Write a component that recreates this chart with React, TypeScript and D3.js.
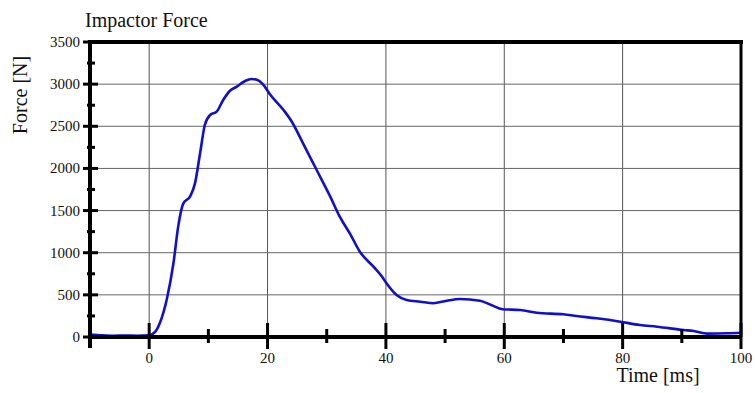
import React from "react";
import * as d3 from "d3";

const timeMs = [-10, -8, -6, -4, -2, 0, 1, 1.8, 2.95, 4.1, 4.9, 5.77, 6.9, 7.74, 8.6, 9.4, 10.3, 11.4, 12.5, 13.65, 14.8, 16.2, 17.3, 18.2, 19.2, 20.4, 22.7, 24.1, 26, 28.3, 30.6, 32.2, 33.9, 35.6, 37.9, 39.3, 40.1, 41.8, 43.5, 45.8, 48, 50.3, 52.5, 55.9, 57.8, 59.7, 62.7, 65.5, 70, 72.2, 75.6, 79.6, 82.9, 85.8, 90.3, 92, 94.3, 97.7, 100];
const forceN = [30, 20, 15, 18, 15, 20, 60, 166, 440, 875, 1310, 1586, 1665, 1823, 2180, 2515, 2634, 2673, 2812, 2922, 2970, 3037, 3061, 3052, 3000, 2880, 2693, 2554, 2298, 1981, 1665, 1427, 1230, 1012, 834, 720, 637, 498, 439, 419, 400, 431, 451, 431, 380, 330, 320, 288, 269, 249, 222, 182, 142, 122, 83, 71, 40, 44, 51];

const xTickValues = [0, 20, 40, 60, 80, 100];
const xMinorTicks = [10, 30, 50, 70, 90];
const yTickValues = [0, 500, 1000, 1500, 2000, 2500, 3000, 3500];
const yMinorTicks = [250, 750, 1250, 1750, 2250, 2750, 3250];

const title = "Impactor Force";
const xLabel = "Time [ms]";
const yLabel = "Force [N]";

export default function App() {
  const W = 755, H = 393;
  const L = 90, R = 741, T = 42, B = 337;
  const x = d3.scaleLinear().domain([-10, 100]).range([L, R]);
  const y = d3.scaleLinear().domain([0, 3500]).range([B, T]);
  const pts = timeMs.map((t, i) => [t, forceN[i]] as [number, number]);
  const line = d3.line<[number, number]>().x(d => x(d[0])).y(d => y(d[1])).curve(d3.curveMonotoneX);
  const font = "'Liberation Serif', 'Times New Roman', serif";
  return (
    <svg width={W} height={H} style={{ position: "absolute", left: 0, top: 0, background: "#fff" }} fontFamily={font}>
      {/* grid */}
      {xTickValues.filter(v => v > -10 && v < 100).map(v => (
        <line key={"gx" + v} x1={x(v)} x2={x(v)} y1={T} y2={B} stroke="#555" strokeWidth={1} />
      ))}
      {yTickValues.filter(v => v > 0 && v < 3500).map(v => (
        <line key={"gy" + v} x1={L} x2={R} y1={y(v)} y2={y(v)} stroke="#666" strokeWidth={1} />
      ))}
      {/* curve */}
      <path d={line(pts) || ""} fill="none" stroke="#1010cc" strokeWidth={2.6} strokeLinejoin="round" />
      {/* frame */}
      <line x1={L} x2={L} y1={T - 2} y2={B + 11} stroke="#000" strokeWidth={4} />
      <line x1={L - 2} x2={R + 2} y1={T} y2={T} stroke="#000" strokeWidth={4} />
      <line x1={R} x2={R} y1={T} y2={B} stroke="#000" strokeWidth={3} />
      <line x1={L} x2={R} y1={B} y2={B} stroke="#000" strokeWidth={4} />
      {/* x ticks */}
      {xTickValues.map(v => (
        <g key={"xt" + v}>
          <line x1={x(v)} x2={x(v)} y1={B - 14} y2={B + 12} stroke="#000" strokeWidth={3} />
          <text x={x(v)} y={B + 26} textAnchor="middle" fontSize={15} fill="#111">{v}</text>
        </g>
      ))}
      {xMinorTicks.map(v => (
        <line key={"xm" + v} x1={x(v)} x2={x(v)} y1={B - 8} y2={B + 6} stroke="#000" strokeWidth={3} />
      ))}
      {/* y ticks */}
      {yTickValues.map(v => (
        <g key={"yt" + v}>
          <line x1={L - 7} x2={L + 8} y1={y(v)} y2={y(v)} stroke="#000" strokeWidth={3} />
          <text x={L - 10} y={y(v) + 5} textAnchor="end" fontSize={15} fill="#111">{v}</text>
        </g>
      ))}
      {yMinorTicks.map(v => (
        <line key={"ym" + v} x1={L - 3} x2={L + 5} y1={y(v)} y2={y(v)} stroke="#000" strokeWidth={3} />
      ))}
      {/* labels */}
      <text x={85} y={27} fontSize={20} fill="#111">{title}</text>
      <text x={658} y={382} textAnchor="middle" fontSize={20} fill="#111">{xLabel}</text>
      <text transform={`translate(27,95) rotate(-90)`} textAnchor="middle" fontSize={20} fill="#111">{yLabel}</text>
    </svg>
  );
}
